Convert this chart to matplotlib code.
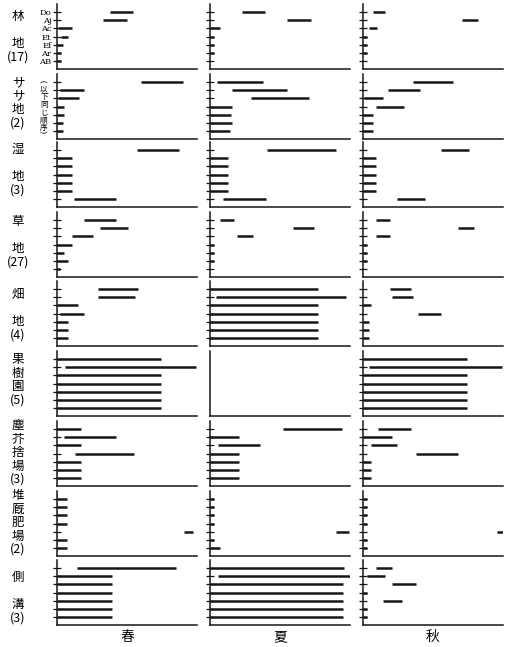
import matplotlib
matplotlib.use('Agg')
import matplotlib.pyplot as plt

plt.rcParams['font.family'] = ['Noto Sans CJK JP', 'DejaVu Sans']

species = ['Do', 'Aj', 'Ac', 'Et', 'Ef', 'Ar', 'AB']
seasons = ['春', '夏', '秋']
habitat_labels = ['林\n\n地\n(17)', 'サ\nサ\n地\n(2)', '湿\n\n地\n(3)', '草\n\n地\n(27)',
                  '畑\n\n地\n(4)', '果\n樹\n園\n(5)', '塵\n芥\n捨\n場\n(3)',
                  '堆\n厩\n肥\n場\n(2)', '側\n\n溝\n(3)']

# occurrence span (start, end) of each species, one list per season: spring, summer, autumn
forest = [
    [(38, 54), (33, 50), (1, 11), (3, 8), (0, 4), (0, 3), (0, 3)],
    [(23, 39), (55, 72), (0, 7), (0, 3), (0, 3), (0, 3), None],
    [(7, 16), (71, 82), (4, 10), (0, 3), (0, 3), (0, 3), None],
]
sasa = [
    [(60, 90), (2, 19), (1, 16), (0, 5), (0, 5), (0, 4), (0, 4)],
    [(5, 38), (16, 55), (29, 71), (0, 16), (0, 15), (0, 16), (0, 14)],
    [(36, 64), (18, 41), (1, 14), (9, 29), (0, 7), (0, 7), (0, 7)],
]
marsh = [
    [(57, 87), (0, 11), (0, 11), (0, 11), (0, 11), (0, 11), (12, 42)],
    [(41, 90), (0, 13), (0, 13), (0, 13), (0, 13), (0, 13), (9, 40)],
    [(56, 76), (0, 9), (0, 9), (0, 9), (0, 9), (0, 9), (24, 44)],
]
grass = [
    [(19, 42), (31, 51), (11, 26), (0, 11), (0, 5), (0, 8), (0, 2)],
    [(7, 17), (59, 74), (19, 31), (0, 3), (0, 3), (0, 3), None],
    [(9, 19), (68, 79), (9, 19), (0, 3), (0, 3), (0, 3), None],
]
field = [
    [(29, 58), (29, 56), (0, 15), (2, 19), (0, 8), (0, 8), (0, 8)],
    [(0, 77), (4, 97), (0, 77), (0, 77), (0, 77), (0, 77), (0, 77)],
    [(19, 34), (21, 36), (0, 6), (39, 56), (0, 4), (0, 4), (0, 4)],
]
orchard = [
    [(0, 74), (6, 99), (0, 74), (0, 74), (0, 74), (0, 74), (0, 74)],
    [None, None, None, None, None, None, None],
    [(0, 74), (4, 99), (0, 74), (0, 74), (0, 74), (0, 74), (0, 74)],
]
dump = [
    [(0, 17), (5, 42), (0, 17), (13, 55), (0, 17), (0, 17), (0, 17)],
    [(52, 94), (0, 21), (6, 36), (0, 21), (0, 21), (0, 21), (0, 21)],
    [(11, 34), (0, 21), (6, 24), (38, 68), (0, 6), (0, 6), (0, 6)],
]
manure = [
    [(0, 7), (0, 7), (0, 7), (0, 7), (91, 97), (0, 7), (0, 7)],
    [(0, 3), (0, 3), (0, 3), (0, 3), (90, 99), (0, 3), (0, 7)],
    [(0, 3), (0, 3), (0, 3), (0, 3), (96, 100), (0, 3), (0, 3)],
]
ditch = [
    [(14, 85), (0, 39), (0, 39), (0, 39), (0, 39), (0, 39), (0, 39)],
    [(0, 96), (6, 100), (0, 95), (0, 95), (0, 95), (0, 95), (0, 95)],
    [(9, 21), (3, 16), (21, 38), (0, 3), (14, 28), (0, 3), (0, 3)],
]
habitats = [forest, sasa, marsh, grass, field, orchard, dump, manure, ditch]

W, H = 509, 647
fig = plt.figure(figsize=(W / 100, H / 100), dpi=100)

col_left = [57, 210, 363]
col_width = 140
row_bottom = [69, 139, 207, 277, 346, 416, 486, 556, 625]
row_height = 65
label_top = [10, 76, 143, 215, 288, 353, 419, 489, 571]

for r, data in enumerate(habitats):
    for c in range(3):
        left = col_left[c]
        ax = fig.add_axes([left / W, 1 - row_bottom[r] / H, col_width / W, row_height / H])
        ax.set_xlim(0, 100)
        ax.set_ylim(0, 8)
        for i, span in enumerate(data[c]):
            if span is None:
                continue
            ax.hlines(7 - i, span[0], span[1], color='#161616', lw=1.8)
        for s in ['top', 'right']:
            ax.spines[s].set_visible(False)
        for s in ['left', 'bottom']:
            ax.spines[s].set_linewidth(1.1)
            ax.spines[s].set_color('#161616')
        ax.set_xticks([])
        if r == 5 and c == 1:
            ax.set_yticks([])
        else:
            ax.set_yticks(range(1, 8))
            ax.tick_params(axis='y', direction='inout', length=6, width=0.9,
                           color='#161616')
        if r == 0 and c == 0:
            ax.set_yticklabels(species[::-1], family='DejaVu Serif', fontsize=6)
            ax.tick_params(axis='y', pad=1)
        else:
            ax.set_yticklabels([])
        ax.set_facecolor('none')

    fig.text(18 / W, 1 - label_top[r] / H, habitat_labels[r], ha='center', va='top',
             fontsize=9, linespacing=1.05)

# note on the tick order beside the second row
fig.text(44 / W, 1 - 78 / H, '︵\n以\n下\n同\nじ\n順\n序\n︶', ha='center', va='top',
         fontsize=5.5, linespacing=0.95)

for c in range(3):
    fig.text((col_left[c] + col_width / 2) / W, 1 - 637 / H, seasons[c],
             ha='center', va='center', fontsize=10)

fig.savefig('out.png', dpi=100)
